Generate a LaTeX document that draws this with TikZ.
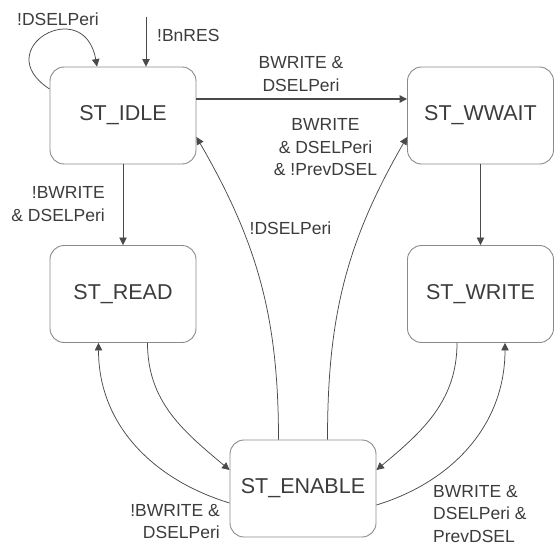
\documentclass[tikz,border=0pt]{standalone}
\usepackage{fontspec}
\setmainfont{Liberation Sans}
\usetikzlibrary{arrows.meta}
\definecolor{boxgray}{HTML}{8A8A8A}
\definecolor{linegray}{HTML}{4A4A4A}
\definecolor{textgray}{HTML}{3C3C3C}

\begin{document}
\begin{tikzpicture}[
        x=1pt, y=1pt,
        node distance=178.5pt,
        state/.style={draw=boxgray, line width=0.9pt, rounded corners=14pt,
            minimum width=146pt, minimum height=97pt, inner sep=0pt,
            text=textgray, font=\fontsize{21.5}{26}\selectfont},
        lbl/.style={inner sep=0pt, text=textgray,
            font=\fontsize{17.5}{22.5}\selectfont},
        >={Triangle[length=7.5pt,width=7.5pt]},
        every edge/.style={draw=linegray, line width=0.75pt}
        ]
        \useasboundingbox (0,0) rectangle (555,-546);

        \node (idle) [state] at (123,-115.5) {ST\_IDLE};
        \node (read) [state, below of=idle] {ST\_READ};
        \node (wwait) [state, right of=idle, node distance=357.5pt] {ST\_WWAIT};
        \node (write) [state, below of=wwait] {ST\_WRITE};
        \node (enable) [state, below of=read, xshift=180pt, node distance=194.5pt] {ST\_ENABLE};

        \coordinate (init) at ([xshift=23pt,yshift=50pt]idle.north);

        % paths out of idle and wwait
        \path[->]
        (init)                      edge []                                 (init |- idle.north)
        ([yshift=26.5pt]idle.west)  edge [out=147, in=100, looseness=3.6]   ([xshift=-26pt]idle.north)
        ([yshift=16.5pt]idle.east)  edge [line width=1.2pt]                 ([yshift=16.5pt]wwait.west)
        (idle)                      edge []                                 (read)
        (wwait)                     edge []                                 (write)
        ;

        % paths to and from enable
        \path[->]
        ([xshift=-24.5pt]enable.north)  edge [out=90, in=-60]       ([yshift=-21.5pt]idle.east)
        ([xshift=24.5pt]enable.north)   edge [out=90, in=-120]      ([yshift=-21.5pt]wwait.west)
        ([xshift=24.5pt]read.south)     edge [out=-90, in=140]      ([yshift=18.5pt]enable.west)
        ([yshift=-14.5pt]enable.west)   edge [out=163, in=-90]      ([xshift=-24.5pt]read.south)
        ([xshift=-23.5pt]write.south)   edge [out=-90, in=40]       ([yshift=18.5pt]enable.east)
        ([yshift=-16.5pt]enable.east)   edge [out=17, in=-90]       ([xshift=24.5pt]write.south)
        ;

        % conditions
        \node (lloop) [lbl] at (58,-19) {!DSELPeri};
        \node (lreset) [lbl, anchor=west] at (157,-35) {!BnRES};
        \node (lidlewait) [lbl, align=center] at (301,-74) {BWRITE \&\\DSELPeri};
        \node (lenwait) [lbl, align=center] at (325.5,-147.5) {BWRITE\\\& DSELPeri\\\& !PrevDSEL};
        \node (lenidle) [lbl] at (290.5,-228.5) {!DSELPeri};
        \node (lidleread) [lbl, align=right, anchor=east] at (105,-204) {!BWRITE\\\& DSELPeri};
        \node (lenread) [lbl, align=right, anchor=east] at (220,-521.5) {!BWRITE \&\\DSELPeri};
        \node (lenwrite) [lbl, align=left, anchor=west] at (433,-514) {BWRITE \&\\DSELPeri \&\\PrevDSEL};
    \end{tikzpicture}
\end{document}
